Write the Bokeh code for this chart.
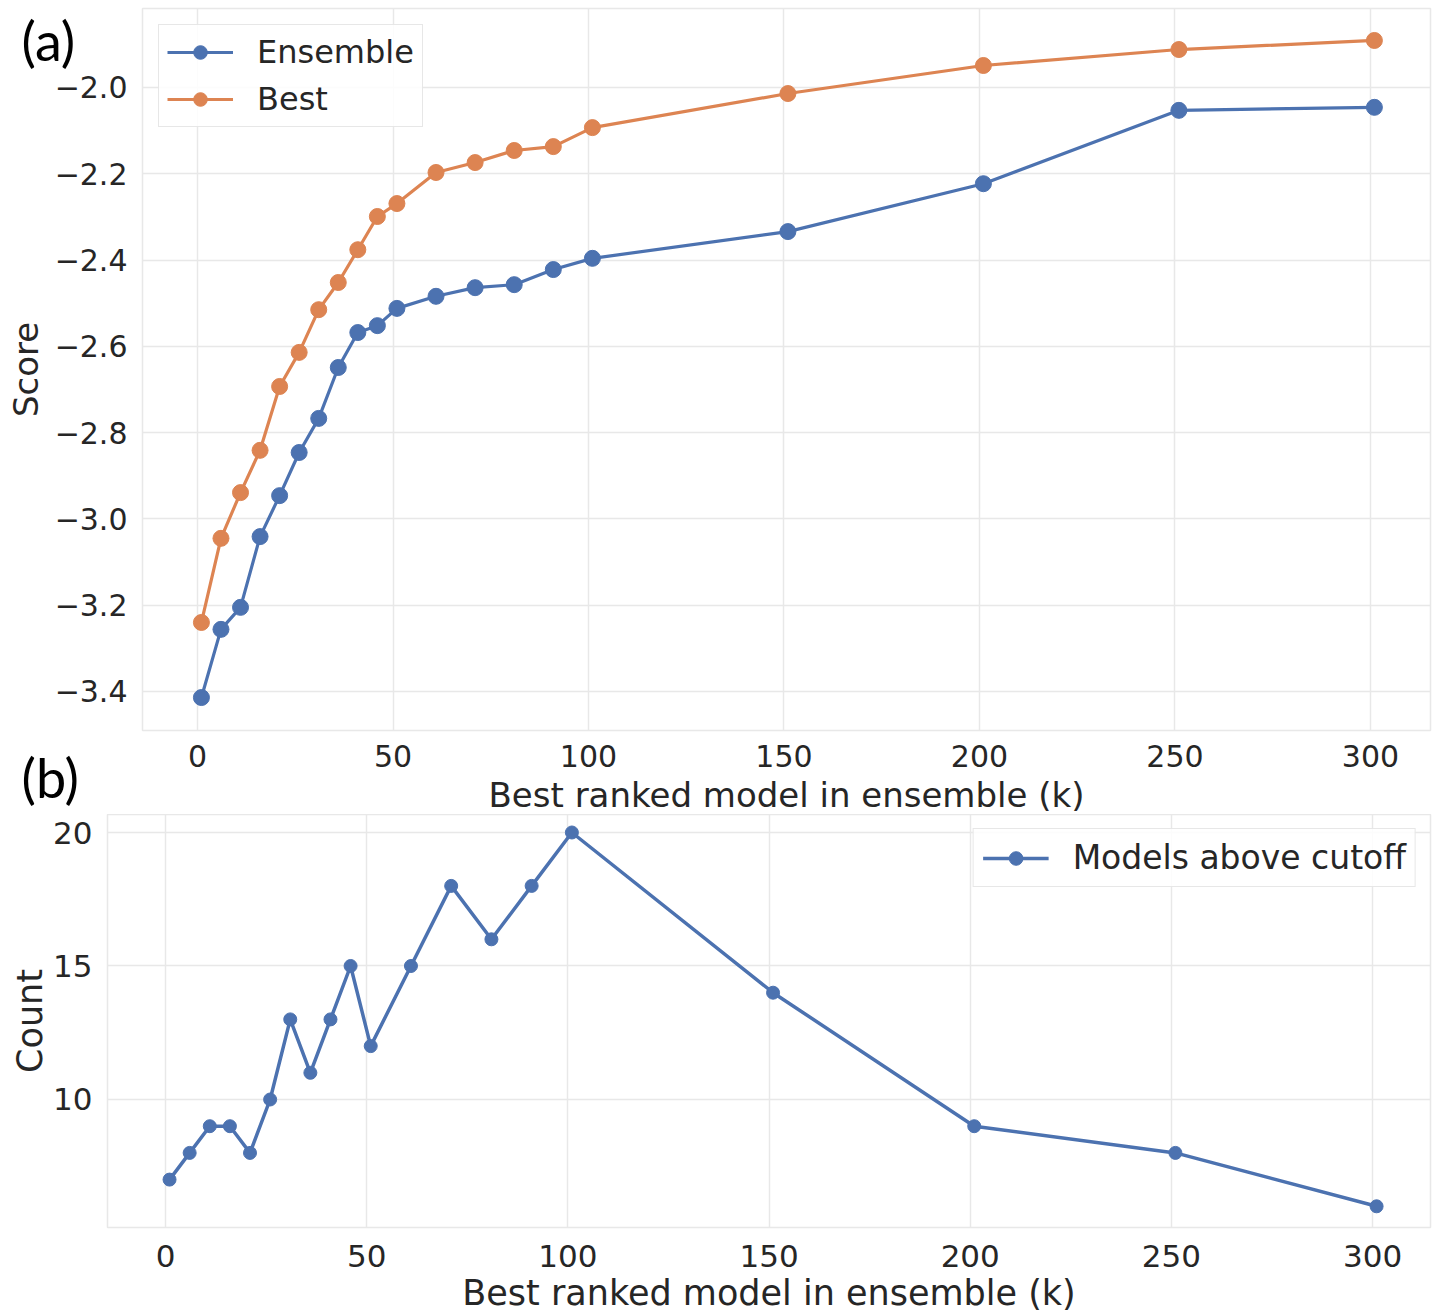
from bokeh.plotting import figure
from bokeh.models import Range1d, FixedTicker, CustomJSTickFormatter, Label
from bokeh.embed import file_html
from bokeh.resources import INLINE

# ---------------- data ----------------
k = [1, 6, 11, 16, 21, 26, 31, 36, 41, 46, 51, 61, 71, 81, 91, 101, 151, 201, 251, 301]
ensemble = [-3.414, -3.256, -3.205, -3.041, -2.946, -2.846, -2.767, -2.649, -2.568, -2.552,
            -2.512, -2.484, -2.464, -2.457, -2.422, -2.396, -2.334, -2.223, -2.053, -2.046]
best = [-3.240, -3.045, -2.939, -2.841, -2.693, -2.614, -2.515, -2.452, -2.376, -2.299,
        -2.269, -2.197, -2.174, -2.146, -2.137, -2.093, -2.014, -1.949, -1.912, -1.891]
count = [7, 8, 9, 9, 8, 10, 13, 11, 13, 15, 12, 15, 18, 16, 18, 20, 14, 9, 8, 6]

x_ticks = [0, 50, 100, 150, 200, 250, 300]
score_ticks = [-3.4, -3.2, -3.0, -2.8, -2.6, -2.4, -2.2, -2.0]
count_ticks = [10, 15, 20]

x_label = "Best ranked model in ensemble (k)"
panel_tags = ["(a)", "(b)"]

BLUE = "#4c72b0"
ORANGE = "#dd8452"
TXT = "#262626"
GRID = "#e8e8e8"
FONT = "DejaVu Sans"


def style(p, tick_px, label_px, x_standoff, x_label_standoff, y_label_standoff):
    p.outline_line_color = GRID
    p.outline_line_width = 1.5
    p.background_fill_color = "white"
    p.border_fill_color = "white"
    for ax in (p.xaxis, p.yaxis):
        ax.axis_line_color = None
        ax.major_tick_line_color = None
        ax.minor_tick_line_color = None
        ax.major_tick_in = 0
        ax.major_tick_out = 0
        ax.major_label_text_font = FONT
        ax.major_label_text_font_size = tick_px
        ax.major_label_text_color = TXT
        ax.axis_label_text_font = FONT
        ax.axis_label_text_font_size = label_px
        ax.axis_label_text_font_style = "normal"
        ax.axis_label_text_color = TXT
    p.xaxis.major_label_standoff = x_standoff
    p.yaxis.major_label_standoff = 15
    p.xaxis.axis_label_standoff = x_label_standoff
    p.yaxis.axis_label_standoff = y_label_standoff
    p.xgrid.grid_line_color = GRID
    p.ygrid.grid_line_color = GRID
    p.xgrid.grid_line_width = 1.5
    p.ygrid.grid_line_width = 1.5


def style_legend(lg, font_px, padding, spacing, standoff):
    lg.padding = padding
    lg.spacing = spacing
    lg.glyph_width = 66
    lg.glyph_height = 34
    lg.label_standoff = standoff
    lg.label_text_font = FONT
    lg.label_text_font_size = font_px
    lg.label_text_color = TXT
    lg.border_line_color = "#d0d0d0"
    lg.border_line_width = 1.5
    lg.background_fill_alpha = 0.85


# ---------------- (a) ----------------
p1 = figure(frame_width=1288, frame_height=722, output_backend="svg", toolbar_location=None,
            x_range=Range1d(-14.07, 315.35), y_range=Range1d(-3.4904, -1.8169),
            min_border_left=142, min_border_right=4, min_border_top=8, min_border_bottom=84)
style(p1, "30px", "34px", 14, 5, 6)
p1.xaxis.ticker = FixedTicker(ticks=x_ticks)
p1.yaxis.ticker = FixedTicker(ticks=score_ticks)
p1.yaxis.formatter = CustomJSTickFormatter(
    code="return (tick < 0 ? '\u2212' : '') + Math.abs(tick).toFixed(1);")
p1.xaxis.axis_label = x_label
p1.yaxis.axis_label = "Score"

p1.line(k, ensemble, color=BLUE, line_width=3.2, legend_label="Ensemble")
p1.scatter(k, ensemble, color=BLUE, size=16, legend_label="Ensemble")
p1.line(k, best, color=ORANGE, line_width=3.2, legend_label="Best")
p1.scatter(k, best, color=ORANGE, size=16, legend_label="Best")

lg = p1.legend[0]
lg.location = "top_left"
lg.margin = 16
style_legend(lg, "32px", 8, 9, 24)

# ---------------- (b) ----------------
p2 = figure(frame_width=1323, frame_height=413, output_backend="svg", toolbar_location=None,
            x_range=Range1d(-14.42, 314.4), y_range=Range1d(5.206, 20.674),
            min_border_left=107, min_border_right=4, min_border_top=0, min_border_bottom=83,
            styles={"position": "absolute", "left": "0px", "top": "814px"})
style(p2, "31px", "35px", 17, 3, 0)
p2.xaxis.ticker = FixedTicker(ticks=x_ticks)
p2.yaxis.ticker = FixedTicker(ticks=count_ticks)
p2.xaxis.axis_label = x_label
p2.yaxis.axis_label = "Count"

p2.line(k, count, color=BLUE, line_width=3.5, legend_label="Models above cutoff")
p2.scatter(k, count, color=BLUE, size=13, legend_label="Models above cutoff")

lg2 = p2.legend[0]
lg2.location = "top_right"
lg2.margin = 14
style_legend(lg2, "33px", 9, 0, 24)

# ---------------- panel tags: transparent overlay in the top-left corner ----------------
tags = figure(width=110, height=815, output_backend="svg", toolbar_location=None,
              x_range=Range1d(0, 1), y_range=Range1d(0, 1),
              x_axis_location=None, y_axis_location=None,
              min_border_left=0, min_border_right=0, min_border_top=0, min_border_bottom=0,
              styles={"position": "absolute", "left": "0px", "top": "0px"})
tags.xgrid.visible = False
tags.ygrid.visible = False
tags.outline_line_color = None
tags.background_fill_color = None
tags.border_fill_color = None
tags.add_layout(Label(x=21, y=808, x_units="screen", y_units="screen", text=panel_tags[0],
                      text_font="Lato", text_font_size="54px", text_color="black",
                      text_baseline="top", text_align="left"))
tags.add_layout(Label(x=21, y=71, x_units="screen", y_units="screen", text=panel_tags[1],
                      text_font="Lato", text_font_size="54px", text_color="black",
                      text_baseline="top", text_align="left"))

open("out.html", "w").write(file_html([p1, p2, tags], INLINE))
